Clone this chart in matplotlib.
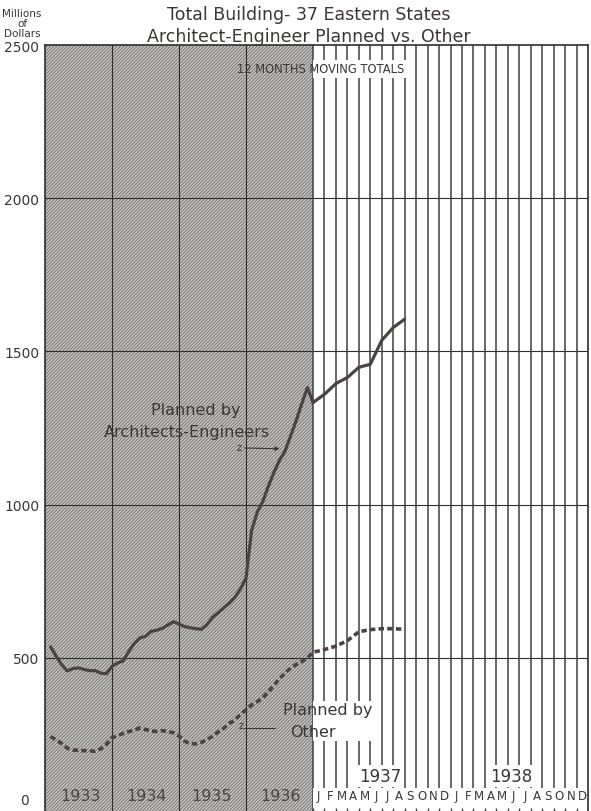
import numpy as np
import matplotlib
matplotlib.use("Agg")
import matplotlib.pyplot as plt
from matplotlib.patches import Rectangle
import matplotlib.transforms as mtransforms

# ---------------- data (month-end index, 1 = end of Jan 1933) ----------------
months_1933_36 = list(range(1, 49))
months_1937 = list(range(48, 57))          # end Dec 1936 .. end Aug 1937

ae_1933_36 = [536, 505, 477, 457, 465, 467, 462, 458, 458, 450, 448, 472,
              483, 490, 521, 547, 565, 570, 586, 590, 596, 607, 618, 610,
              602, 598, 595, 593, 608, 632, 647, 663, 678, 697, 725, 760,
              915, 975, 1010, 1060, 1105, 1145, 1175, 1225, 1275, 1330, 1382, 1333]
ae_1937 = [1333, 1360, 1395, 1415, 1448, 1458, 1536, 1578, 1605]

other_1933_36 = [243, 232, 220, 205, 199, 198, 197, 196, 195, 203, 218, 239,
                 246, 253, 259, 264, 271, 266, 261, 260, 262, 260, 255, 245,
                 228, 220, 219, 224, 233, 244, 258, 270, 286, 297, 315, 330,
                 346, 357, 369, 389, 410, 432, 450, 467, 478, 488, 500, 518]
other_1937 = [518, 527, 538, 556, 585, 592, 595, 595, 593]

year_labels_left = ["1933", "1934", "1935", "1936"]
year_label_pos_left = [6.3, 18.1, 29.8, 42.2]
year_labels_right = ["1937", "1938"]
year_label_pos_right = [53.85, 65.3]
month_letters = list("JFMAMJJASOND") * 2
y_ticks = [500, 1000, 1500, 2000, 2500]

# ---------------- styling ----------------
INK = "#3d3636"
LINE = "#4b4342"
GRID = "#2e2e2e"
plt.rcParams["font.family"] = ["DejaVu Sans"]
plt.rcParams["hatch.linewidth"] = 0.6

K = 2.052  # 1937-38 months drawn wider than 1933-36 months


def fwd(x):
    x = np.asarray(x, dtype=float)
    return np.where(x <= 48, x, 48 + (x - 48) * K)


def inv(u):
    u = np.asarray(u, dtype=float)
    return np.where(u <= 48, u, 48 + (u - 48) / K)


fig = plt.figure(figsize=(5.91, 8.12), dpi=100)
fig.patch.set_facecolor("white")
ax = fig.add_axes([45 / 591, 0.0, 543 / 591, 766 / 812])
ax.set_xscale("function", functions=(fwd, inv))
ax.set_xlim(0, 72)
ax.set_ylim(0, 2500)

# shaded past period
ax.axvspan(0, 48, facecolor="#c9c7c3", edgecolor="#6b6865", hatch="/" * 10,
           linewidth=0, zorder=0.5)

# grid
for yv in [500, 1000, 1500, 2000]:
    ax.axhline(yv, color=GRID, lw=0.8, zorder=1.5)
for xv in [12, 24, 36]:
    ax.axvline(xv, color=GRID, lw=0.8, zorder=1.5)
for xv in range(48, 72):
    ax.axvline(xv, color="#404040", lw=1.1, zorder=1.5)

# white band for month letters + small ticks
ax.add_patch(Rectangle((48, 0), 24, 75, facecolor="white", edgecolor="none", zorder=2))
ax.vlines(list(range(48, 73)), 0, 10, color="#404040", lw=1.0, zorder=2.2)

# mask behind heading text (white part)
ax.add_patch(Rectangle((48, 2392), 8.3, 60, facecolor="white", edgecolor="none", zorder=2))
# mask behind "Planned by Other" in white part
ax.add_patch(Rectangle((48, 228), 5.6, 131, facecolor="white", edgecolor="none", zorder=2))

# series
ax.plot(months_1933_36, ae_1933_36, color=LINE, lw=2.3, zorder=4,
        solid_joinstyle="round", solid_capstyle="round")
ax.plot(months_1937, ae_1937, color=LINE, lw=2.3, zorder=4,
        solid_joinstyle="round", solid_capstyle="round")
ax.plot(months_1933_36 + months_1937[1:], other_1933_36 + other_1937[1:],
        color=LINE, lw=2.6, ls=(0, (1.5, 0.9)), zorder=4)

# spines and ticks
for s in ["left", "top", "right"]:
    ax.spines[s].set_color(GRID)
    ax.spines[s].set_linewidth(1.2)
ax.spines["bottom"].set_visible(False)
ax.set_xticks([])
ax.set_yticks(y_ticks)
ax.set_yticklabels([str(v) for v in y_ticks], fontsize=10, color=INK)
ax.tick_params(axis="y", length=0, pad=4)
ax.annotate("0", xy=(0, 0), xycoords="axes fraction", xytext=(-15, 8),
            textcoords="offset points", ha="center", va="center",
            fontsize=10, color=INK)

# titles
fig.text(0.522, 1 - 15 / 812, "Total Building- 37 Eastern States",
         ha="center", va="center", fontsize=12.5, color=INK)
fig.text(0.522, 1 - 37 / 812, "Architect-Engineer Planned vs. Other",
         ha="center", va="center", fontsize=12.5, color=INK)
fig.text(22 / 591, 1 - 24 / 812, "Millions\nof\nDollars", ha="center", va="center",
         fontsize=7.5, color=INK, linespacing=0.95)

ax.text(0.508, 2422, "12 MONTHS MOVING TOTALS", ha="center", va="center",
        fontsize=8.3, color=INK, zorder=5,
        transform=mtransforms.blended_transform_factory(ax.transAxes, ax.transData))

# year / month labels
for lab, xp in zip(year_labels_left, year_label_pos_left):
    ax.text(xp, 49, lab, ha="center", va="center", fontsize=11.5, color="#4a4646", zorder=5)
for lab, xp in zip(year_labels_right, year_label_pos_right):
    ax.text(xp, 114, lab, ha="center", va="center", fontsize=12, color=INK, zorder=5,
            bbox=dict(facecolor="white", edgecolor="none", pad=1.5))
for i, lab in enumerate(month_letters):
    ax.text(48.5 + i, 49, lab, ha="center", va="center", fontsize=8.5, color=INK, zorder=5)

# annotations
ax.text(27, 1312, "Planned by", ha="center", va="center", fontsize=11.5, color=INK, zorder=5)
ax.text(25.5, 1240, "Architects-Engineers", ha="center", va="center", fontsize=11.5,
        color=INK, zorder=5)
ax.annotate("", xy=(42.5, 1182), xytext=(35.2, 1185),
            arrowprops=dict(arrowstyle="-|>", lw=0.8, color=INK, mutation_scale=6),
            zorder=5)
ax.text(35.2, 1188, "z", ha="right", va="center", fontsize=7, color=INK, zorder=5)

ax.text(42.6, 330, "Planned by", ha="left", va="center", fontsize=11.5, color=INK, zorder=5)
ax.text(43.9, 261, "Other", ha="left", va="center", fontsize=11.5, color=INK, zorder=5)
ax.plot([35.6, 41.2], [271, 271], color=INK, lw=0.8, zorder=5)
ax.text(35.6, 282, "z", ha="right", va="center", fontsize=7, color=INK, zorder=5)

fig.savefig("out.png", dpi=100, facecolor="white")
